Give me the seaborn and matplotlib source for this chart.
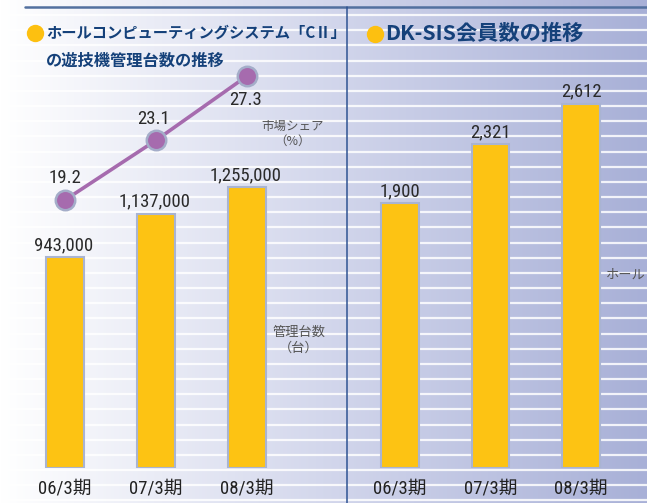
"""
Hall computer system CII: managed machines / market share, and DK-SIS members.
"""
import numpy as np
import matplotlib
matplotlib.use("Agg")
import matplotlib.pyplot as plt
import matplotlib.colors as mcolors
from matplotlib import font_manager
import seaborn as sns

# Data
periods = ["06/3期", "07/3期", "08/3期"]
cii_units = [943000, 1137000, 1255000]
cii_share = [19.2, 23.1, 27.3]
sis_members = [1900, 2321, 2612]

title_left_1 = "ホールコンピューティングシステム「CⅡ」"
title_left_2 = "の遊技機管理台数の推移"
title_right = "DK-SIS会員数の推移"

sns.set_style("white")
CJK = ["Noto Sans CJK JP", "DejaVu Sans"]
plt.rcParams["font.family"] = CJK

# pick a condensed latin face for the numbers if one is installed
entries = font_manager.fontManager.ttflist
names = {f.name for f in entries}
narrow_name, narrow_stretch = None, "normal"
for cand in ["Liberation Sans Narrow", "Roboto Condensed", "Open Sans Condensed",
             "Arial Narrow", "Noto Sans Condensed"]:
    if cand in names:
        narrow_name = cand
        break
if narrow_name is None:
    for f in entries:
        if f.name in ("DejaVu Sans", "Roboto", "Noto Sans", "Open Sans") and \
                str(f.stretch) in ("condensed", "semi-condensed", "500", "600") and \
                f.weight in ("normal", 400, "regular"):
            narrow_name, narrow_stretch = f.name, "condensed"
            break
NARROW = ([narrow_name] if narrow_name else []) + ["Noto Sans CJK JP", "DejaVu Sans"]
num_font = dict(family=NARROW, stretch=narrow_stretch)

W, H = 647, 503
BAR = "#fdc313"
BAR_EDGE = "#a9b4d2"
PURPLE = "#a66bae"
NAVY = "#15417a"


def px_rect(x0, y0, x1, y1):
    return [x0 / W, 1 - y1 / H, (x1 - x0) / W, (y1 - y0) / H]


fig = plt.figure(figsize=(W / 100, H / 100), dpi=100)

# background: gradient + white rules
bg = fig.add_axes([0, 0, 1, 1])
bg.set_xlim(0, W)
bg.set_ylim(H, 0)
bg.axis("off")
grad_cmap = mcolors.LinearSegmentedColormap.from_list("bg", ["#ffffff", "#d3d7ec", "#a8b0d7"])
bg.imshow(np.linspace(0, 1, 256).reshape(1, -1), cmap=grad_cmap, aspect="auto",
          extent=(0, W, H, 0), zorder=0)
for y in np.arange(15, H, 15.17):
    bg.axhline(y, color="white", lw=1.6, alpha=0.85, zorder=1)
bg.plot([25, W], [7, 7], color="#52709f", lw=1.8, zorder=2)
bg.plot([347, 347], [7, H], color="#2f5393", lw=1.1, zorder=2)

# titles
bg.plot(35, 33, "o", ms=12.5, color="#fdc010", mew=0, zorder=3)
bg.plot(375, 34, "o", ms=12.5, color="#fdc010", mew=0, zorder=3)
bg.text(46, 33, title_left_1, va="center", ha="left", fontsize=11,
        fontweight="bold", color=NAVY, zorder=3)
bg.text(46, 61, title_left_2, va="center", ha="left", fontsize=11.7,
        fontweight="bold", color=NAVY, zorder=3)
bg.text(385, 33, title_right, va="center", ha="left", fontsize=15.3,
        fontweight="bold", color=NAVY, zorder=3)

# axis captions
bg.text(293, 134, "市場シェア\n（%）", ha="center", va="center", fontsize=9,
        color="#555555", linespacing=1.25, zorder=3)
bg.text(299, 340, "管理台数\n（台）", ha="center", va="center", fontsize=9.5,
        color="#555555", linespacing=1.25, zorder=3)
bg.text(606, 275, "ホール", ha="left", va="center", fontsize=9.5,
        color="#555555", zorder=3)


def style_axes(ax):
    ax.patch.set_alpha(0)
    for s in ax.spines.values():
        s.set_visible(False)
    ax.set_yticks([])
    ax.set_xlabel("")
    ax.set_ylabel("")
    ax.tick_params(axis="x", length=0, pad=8, labelsize=13.5, labelcolor="#222222")
    for lab in ax.get_xticklabels():
        lab.set_family(NARROW)
        lab.set_stretch(narrow_stretch)


# left panel: managed machines (bars) + share (line)
axL = fig.add_axes(px_rect(0, 0, 347, 468))
sns.barplot(x=periods, y=cii_units, ax=axL, color=BAR, saturation=1, width=0.42,
            edgecolor=BAR_EDGE, linewidth=1.5)
axL.set_ylim(0, 468 / (211 / 943000))
for i, v in enumerate(cii_units):
    axL.annotate(f"{v:,}", (i, v), xytext=(-1, 12), textcoords="offset pixels",
                 ha="center", va="center", fontsize=13.5, color="#2a2a2a", **num_font)
style_axes(axL)

axT = axL.twinx()
sns.lineplot(x=[0, 1, 2], y=cii_share, ax=axT, color=PURPLE, lw=2.6, marker="o",
             ms=14, mfc=PURPLE, mec="#a4adc9", mew=1.8)
axT.set_ylim(19.2 - 268 / 15.31, 19.2 + 200 / 15.31)
share_offsets = [(0, 22), (-2, 21), (-1, -24)]
for i, v in enumerate(cii_share):
    axT.annotate(f"{v}", (i, v), xytext=share_offsets[i], textcoords="offset pixels",
                 ha="center", va="center", fontsize=13.5, color="#2a2a2a", **num_font)
axT.patch.set_alpha(0)
for s in axT.spines.values():
    s.set_visible(False)
axT.set_yticks([])
axT.set_ylabel("")
axL.set_xlim(-65 / 91, (347 - 65) / 91)

# right panel: DK-SIS members
axR = fig.add_axes(px_rect(347, 0, 647, 468))
sns.barplot(x=periods, y=sis_members, ax=axR, color=BAR, saturation=1, width=0.41,
            edgecolor=BAR_EDGE, linewidth=1.5)
axR.set_ylim(0, 468 / (265 / 1900))
axR.set_xlim((347 - 400) / 90.5, (647 - 400) / 90.5)
for i, v in enumerate(sis_members):
    axR.annotate(f"{v:,}", (i, v), xytext=(0, 12), textcoords="offset pixels",
                 ha="center", va="center", fontsize=13.5, color="#2a2a2a", **num_font)
style_axes(axR)

fig.savefig("out.png", dpi=100)
